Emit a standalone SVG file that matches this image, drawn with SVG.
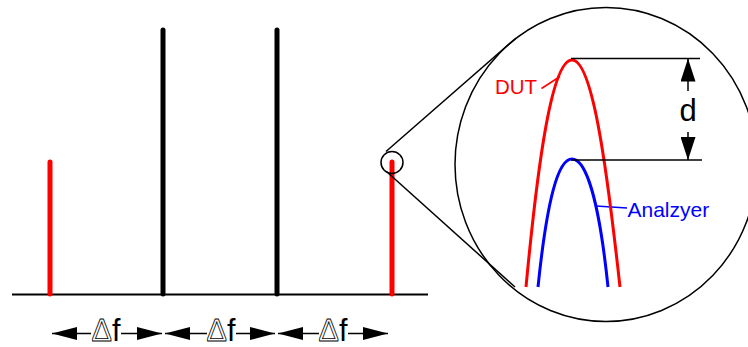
<svg xmlns="http://www.w3.org/2000/svg" width="748" height="347" viewBox="0 0 748 347">
<style>
.lbl{font-family:"Liberation Sans",Arial,sans-serif}
.spk{stroke-width:5;stroke-linecap:round;fill:none}
.thin{stroke:#000;stroke-width:1.5;fill:none}
.crv{stroke-width:3;fill:none}
.arr{stroke:#000;stroke-width:1.5;fill:none}
.df{font-size:30.5px}
.hollow{fill:#fff;stroke:#000;stroke-width:0.8}
</style>
<defs>
<marker id="ah" viewBox="0 0 25 13" refX="25" refY="6.5" markerWidth="25" markerHeight="13" markerUnits="userSpaceOnUse" orient="auto">
<path d="M0,0 L25,6.5 L0,13 Z" fill="#000"/>
</marker>
<marker id="ad" viewBox="0 0 23 15" refX="23" refY="7.5" markerWidth="23" markerHeight="15" markerUnits="userSpaceOnUse" orient="auto">
<path d="M0,0 L23,7.5 L0,15 Z" fill="#000"/>
</marker>
</defs>
<rect width="748" height="347" fill="#fff"/>
<g id="axis">
<line x1="12" y1="294.5" x2="428" y2="294.5" stroke="#000" stroke-width="2"/>
</g>
<g id="spike1"><line class="spk" x1="50" y1="162" x2="50" y2="294" stroke="#f00"/></g>
<g id="spike2"><line class="spk" x1="163" y1="30" x2="163" y2="294" stroke="#000"/></g>
<g id="spike3"><line class="spk" x1="277" y1="30" x2="277" y2="294" stroke="#000"/></g>
<g id="spike4"><line class="spk" x1="392" y1="162" x2="392" y2="294" stroke="#f00"/></g>
<g id="zoom-small"><circle class="thin" cx="392" cy="162.5" r="11"/></g>
<g id="connectors">
<line class="thin" x1="386" y1="151.5" x2="516" y2="38"/>
<line class="thin" x1="386.5" y1="171.5" x2="515" y2="287"/>
<line class="thin" x1="541.5" y1="88.5" x2="560" y2="76.5" style="stroke:#f00"/>
<line class="thin" x1="596" y1="206" x2="627" y2="208" style="stroke:#00f"/>
</g>
<g id="zoom-big">
<ellipse class="thin" cx="606" cy="164.5" rx="151" ry="157"/>
</g>
<g id="dut">
<path class="crv" stroke="#f00" d="M526,287 C538,160 552,60 572,60 C592,60 606,160 620,287"/>
<text class="lbl" x="495" y="94" font-size="20.5" fill="#f00">DUT</text>
</g>
<g id="analyzer">
<path class="crv" stroke="#00f" d="M538,287 C547,200 558,159 572,159 C586,159 599,200 608,287"/>
<text class="lbl" x="627.5" y="216.5" font-size="21" fill="#00f">Analzyer</text>
</g>
<g id="d-dim">
<line class="thin" x1="571" y1="58.5" x2="700" y2="58.5"/>
<line class="thin" x1="571" y1="160" x2="702" y2="160"/>
<line class="arr" x1="688" y1="91" x2="688" y2="58.5" marker-end="url(#ad)"/>
<line class="arr" x1="688" y1="132" x2="688" y2="160" marker-end="url(#ad)"/>
<text class="lbl" x="688" y="121" font-size="31" text-anchor="middle" fill="#000">d</text>
</g>
<g id="df1">
<line class="arr" x1="91" y1="333.5" x2="52" y2="333.5" marker-end="url(#ah)"/>
<line class="arr" x1="121" y1="333.5" x2="162" y2="333.5" marker-end="url(#ah)"/>
<text class="lbl df" x="106" y="340.5" text-anchor="middle" fill="#000"><tspan class="hollow">Δ</tspan>f</text>
</g>
<g id="df2">
<line class="arr" x1="207" y1="333.5" x2="165" y2="333.5" marker-end="url(#ah)"/>
<line class="arr" x1="236" y1="333.5" x2="275" y2="333.5" marker-end="url(#ah)"/>
<text class="lbl df" x="221" y="340.5" text-anchor="middle" fill="#000"><tspan class="hollow">Δ</tspan>f</text>
</g>
<g id="df3">
<line class="arr" x1="319" y1="333.5" x2="278" y2="333.5" marker-end="url(#ah)"/>
<line class="arr" x1="348" y1="333.5" x2="388" y2="333.5" marker-end="url(#ah)"/>
<text class="lbl df" x="333" y="340.5" text-anchor="middle" fill="#000"><tspan class="hollow">Δ</tspan>f</text>
</g>
</svg>
